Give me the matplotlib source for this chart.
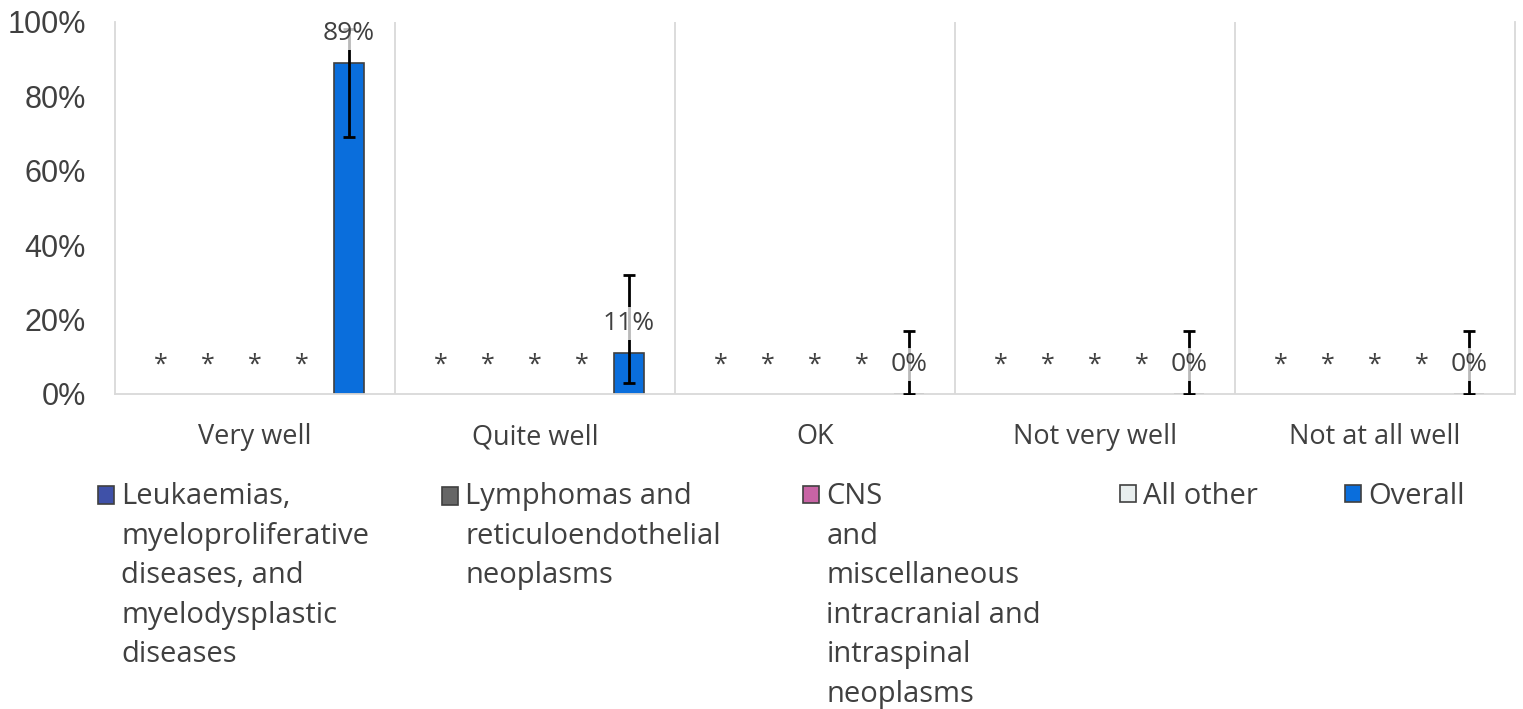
import numpy as np
import matplotlib
matplotlib.use("Agg")
import matplotlib.pyplot as plt
from matplotlib.patches import Patch, Rectangle
from matplotlib.legend_handler import HandlerPatch
from matplotlib.font_manager import FontProperties

categories = ["Very well", "Quite well", "OK", "Not very well", "Not at all well"]
series_names = [
    "Leukaemias,\nmyeloproliferative\ndiseases, and\nmyelodysplastic\ndiseases",
    "Lymphomas and\nreticuloendothelial\nneoplasms",
    "CNS\nand\nmiscellaneous\nintracranial and\nintraspinal\nneoplasms",
    "All other",
    "Overall",
]
series_colors = ["#3F51A8", "#666666", "#C864A5", "#E8EEEE", "#0A6EDC"]
# small groups are suppressed in the chart, only a "*" is shown
suppressed = [True, True, True, True, False]
overall = [89, 11, 0, 0, 0]
overall_lo = [69, 3, 0, 0, 0]
overall_hi = [98, 32, 17, 17, 17]

txt = "#404040"
grid_c = "#D9D9D9"
font = "Open Sans"

fig = plt.figure(figsize=(15.23, 7.09), dpi=100)
ax = fig.add_axes([0.0755, 0.4443, 0.9192, 0.5247])

x = np.arange(len(categories))
slot = 0.168
offsets = (np.arange(len(series_names)) - 2) * slot

for i, name in enumerate(series_names):
    xs = x + offsets[i]
    if suppressed[i]:
        for xi in xs:
            ax.annotate("*", (xi, 0), xytext=(0, 21), textcoords="offset points",
                        ha="center", va="center", fontsize=18, family=font, color=txt)
        continue
    vals = np.array(overall) / 100
    lo = np.array(overall_lo) / 100
    hi = np.array(overall_hi) / 100
    ax.bar(xs, vals, width=0.11, color=series_colors[i], edgecolor=txt,
           linewidth=1.2, zorder=2)
    ax.errorbar(xs, vals, yerr=[vals - lo, hi - vals], fmt="none", ecolor="black",
                elinewidth=2, capsize=4.3, capthick=2, zorder=3)
    for xi, v in zip(xs, overall):
        ax.annotate(f"{v}%", (xi, v / 100), xytext=(0, 21), textcoords="offset points",
                    ha="center", va="center", fontsize=19, family=font, color=txt,
                    zorder=4,
                    bbox=dict(boxstyle="square,pad=0.15", fc="white", ec="none", alpha=0.73))

ax.set_xlim(-0.5, 4.5)
ax.set_ylim(0, 1)
ax.set_xticks(x)
ax.set_xticklabels(categories, family=font, fontsize=19.5, color=txt)
ax.set_xticks(np.arange(0.5, 4.5), minor=True)
ax.grid(axis="x", which="minor", color=grid_c, lw=1.3)
ax.set_yticks(np.linspace(0, 1, 6))
ax.set_yticklabels([f"{int(v)}%" for v in np.linspace(0, 100, 6)],
                   family="Liberation Sans", fontsize=22, color=txt)
ax.tick_params(axis="both", which="both", length=0)
ax.tick_params(axis="x", pad=21)
ax.tick_params(axis="y", pad=21)
ax.spines["top"].set_visible(False)
for s in ["left", "right", "bottom"]:
    ax.spines[s].set_color(grid_c)
    ax.spines[s].set_linewidth(1.3)
ax.set_axisbelow(True)

# legend: one small legend per entry so the handle sits on the first text line
leg_size = 21
line_px = 39
leg_x = [98, 442, 803, 1120, 1345]
leg_top = 482
renderer = fig.canvas.get_renderer()
fp = FontProperties(family=font, size=leg_size)
_, lp_h, lp_d = renderer.get_text_width_height_descent("lp", fp, ismath=False)
spacing = line_px / (lp_h - lp_d) * 0.836
step_pt = line_px * 72 / fig.dpi


def make_patch(shift):
    def patch_func(legend, orig_handle, xdescent, ydescent, width, height, fontsize):
        return Rectangle((-xdescent, -ydescent + shift), width, height)
    return patch_func


for i, name in enumerate(series_names):
    n = name.count("\n") + 1
    shift = (n - 1) / 2 * step_pt + (n - 1) * 0.6
    h = Patch(facecolor=series_colors[i], edgecolor=txt, linewidth=1.2, label=name)
    leg = fig.legend(handles=[h], loc="upper left",
                     bbox_to_anchor=(leg_x[i] / 1523, 1 - leg_top / 709),
                     frameon=False, borderpad=0, borderaxespad=0,
                     handlelength=0.55, handleheight=0.55, handletextpad=0.25,
                     prop=fp, labelcolor=txt,
                     handler_map={Patch: HandlerPatch(patch_func=make_patch(shift))})
    for t in leg.get_texts():
        t.set_linespacing(spacing)

fig.savefig("out.png", dpi=100)
